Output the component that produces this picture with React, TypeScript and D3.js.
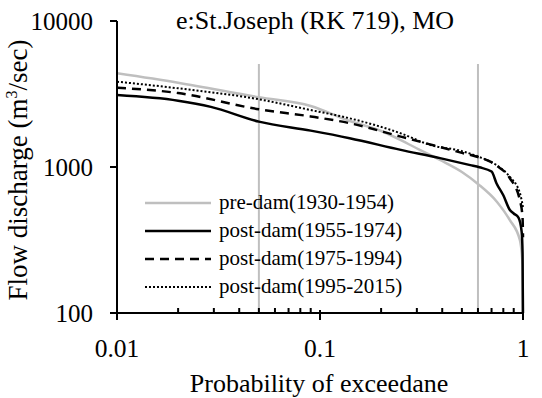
import React from "react";
import * as d3 from "d3";

const W = 542;
const H = 398;

const title = "e:St.Joseph (RK 719), MO";
const xLabel = "Probability of exceedane";
const xTicks = [0.01, 0.1, 1];
const xTickLabels = ["0.01", "0.1", "1"];
const yTicks = [100, 1000, 10000];
const yTickLabels = ["100", "1000", "10000"];
const refLines = [0.05, 0.6];

const seriesNames = ["pre-dam(1930-1954)", "post-dam(1955-1974)", "post-dam(1975-1994)", "post-dam(1995-2015)"];

const preDamP = [0.01, 0.02, 0.05, 0.09, 0.14, 0.2, 0.25, 0.31, 0.39, 0.5, 0.6, 0.745, 0.86, 0.965, 0.995, 1];
const preDamQ = [4385, 3780, 3000, 2620, 2065, 1765, 1530, 1310, 1117, 924, 765, 576, 434, 316, 213, 100];

const post1P = [0.01, 0.02, 0.029, 0.05, 0.09, 0.14, 0.25, 0.39, 0.55, 0.61, 0.7, 0.74, 0.8, 0.86, 0.9, 0.95, 0.985, 0.995, 0.9999];
const post1Q = [3110, 2845, 2580, 2045, 1775, 1575, 1310, 1150, 1030, 995, 930, 775, 640, 510, 480, 450, 360, 258, 80];

const post2P = [0.01, 0.02, 0.05, 0.09, 0.14, 0.25, 0.5, 0.6, 0.69, 0.745, 0.86, 0.965, 0.995, 1];
const post2Q = [3490, 3210, 2485, 2220, 1995, 1615, 1250, 1170, 1087, 1016, 841, 594, 450, 330];

const post3P = [0.01, 0.02, 0.05, 0.09, 0.14, 0.25, 0.35, 0.5, 0.6, 0.74, 0.86, 0.965, 1];
const post3Q = [3840, 3460, 2910, 2455, 2155, 1700, 1415, 1285, 1180, 1030, 858, 664, 532];

const FONT = "'Liberation Serif', 'Times New Roman', serif";

export default function App() {
  const x = d3.scaleLog().domain([0.01, 1]).range([117, 523]);
  const y = d3.scaleLog().domain([100, 10000]).range([313, 21]);

  const line = d3
    .line<[number, number]>()
    .x((d) => x(d[0]))
    .y((d) => y(d[1]))
    .curve(d3.curveMonotoneX);

  const zip = (p: number[], q: number[]) => p.map((v, i) => [v, q[i]] as [number, number]);

  const styles = [
    { stroke: "#bfbfbf", width: 2.5, dash: undefined as string | undefined },
    { stroke: "#000", width: 2.5, dash: undefined },
    { stroke: "#000", width: 2.5, dash: "9,6" },
    { stroke: "#000", width: 2, dash: "2,2" },
  ];
  const data = [zip(preDamP, preDamQ), zip(post1P, post1Q), zip(post2P, post2Q), zip(post3P, post3Q)];

  const minor: number[] = [];
  [0.01, 0.1].forEach((b) => {
    for (let k = 2; k <= 9; k++) minor.push(b * k);
  });

  const [x0, x1] = x.range();
  const [yb, yt] = y.range();

  return (
    <svg width={W} height={H} style={{ display: "block", position: "absolute", left: 0, top: 0 }} fontFamily={FONT}>
      <rect width={W} height={H} fill="#fff" />
      <defs>
        <clipPath id="plot">
          <rect x={x0} y={yt} width={x1 - x0 + 2} height={yb - yt} />
        </clipPath>
      </defs>
      {refLines.map((r) => (
        <line key={r} x1={x(r)} x2={x(r)} y1={64} y2={yb} stroke="#bfbfbf" strokeWidth={2} />
      ))}
      <g clipPath="url(#plot)">
        {data.map((d, i) => (
          <path
            key={i}
            d={line(d) || ""}
            fill="none"
            stroke={styles[i].stroke}
            strokeWidth={styles[i].width}
            strokeDasharray={styles[i].dash}
          />
        ))}
      </g>
      <line x1={x0} x2={x0} y1={yt} y2={yb} stroke="#000" strokeWidth={2} />
      <line x1={x0} x2={x1} y1={yb} y2={yb} stroke="#000" strokeWidth={2} />
      {yTicks.map((t, i) => (
        <g key={t}>
          <line x1={x0 - 7} x2={x0} y1={y(t)} y2={y(t)} stroke="#000" strokeWidth={2} />
          <text x={93} y={y(t) + 8.5} textAnchor="end" fontSize={25}>
            {yTickLabels[i]}
          </text>
        </g>
      ))}
      {minor.map((t) => (
        <line key={t} x1={x(t)} x2={x(t)} y1={yb - 5} y2={yb} stroke="#000" strokeWidth={2} />
      ))}
      {xTicks.map((t, i) => (
        <g key={t}>
          <line x1={x(t)} x2={x(t)} y1={yb - 3} y2={yb + 7} stroke="#000" strokeWidth={2} />
          <text x={x(t)} y={357} textAnchor="middle" fontSize={25.5}>
            {xTickLabels[i]}
          </text>
        </g>
      ))}
      <text x={315} y={29} textAnchor="middle" fontSize={26}>
        {title}
      </text>
      <text x={319} y={392} textAnchor="middle" fontSize={26}>
        {xLabel}
      </text>
      <text transform="translate(27,170) rotate(-90)" textAnchor="middle" fontSize={27}>
        Flow discharge (m<tspan fontSize={16} dy={-10}>3</tspan>
        <tspan dy={10}>/sec)</tspan>
      </text>
      {seriesNames.map((n, i) => (
        <g key={n}>
          <line
            x1={145}
            x2={211}
            y1={203 + i * 28}
            y2={203 + i * 28}
            stroke={styles[i].stroke}
            strokeWidth={styles[i].width}
            strokeDasharray={styles[i].dash}
          />
          <text x={219} y={203 + i * 28 + 6} fontSize={21}>
            {n}
          </text>
        </g>
      ))}
    </svg>
  );
}
